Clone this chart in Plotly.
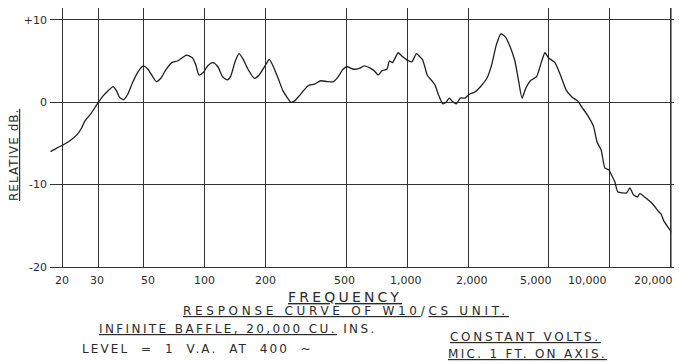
import math
import plotly.graph_objects as go

# ---- data ----
freq_hz = [17.4, 18.6, 20, 21.6, 23.6, 24.8, 25.7, 27.5, 30, 31.7, 33.5, 35.4, 36.8, 38.1, 39.9,
           41.9, 44.2, 46.8, 49.8, 52.6, 55.5, 57.9, 60.9, 64.8, 69, 73.5, 77.7, 81.7, 87.1, 90.7,
           93.9, 98.7, 103.6, 110.2, 116.4, 122.8, 129.7, 134.4, 141.9, 148.2, 155.2, 163.9, 176.2,
           186, 200, 208.8, 218.7, 230.8, 243.6, 257, 266.4, 276.4, 291.6, 307.8, 324.8, 348.8, 375,
           403, 433, 457, 482, 505, 544, 580, 614, 660, 689, 719, 750, 794, 817, 846, 902, 950, 1000,
           1053, 1111, 1145, 1188, 1231, 1254, 1323, 1371, 1421, 1500, 1556, 1612, 1670, 1744, 1829,
           1930, 2035, 2147, 2302, 2472, 2607, 2748, 2897, 3055, 3222, 3398, 3543, 3685, 3844, 4054,
           4346, 4582, 4783, 4970, 5353, 5716, 6104, 6518, 6961, 7268, 7761, 8287, 8657, 9052, 9450,
           9870, 10160, 10550, 10950, 11510, 12080, 12540, 13030, 13640, 14050, 14980, 16160, 17420,
           17900, 18430, 19900, 20000]
level_db = [-6.0, -5.6, -5.2, -4.7, -3.9, -3.1, -2.3, -1.4, 0.0, 0.8, 1.4, 1.9, 1.4, 0.6, 0.3,
            1.0, 2.4, 3.6, 4.4, 4.0, 3.1, 2.5, 2.9, 4.0, 4.8, 5.0, 5.4, 5.7, 5.4, 4.5,
            3.3, 3.6, 4.4, 4.8, 4.3, 3.1, 2.7, 3.1, 5.0, 5.9, 5.2, 4.0, 2.9,
            3.3, 4.5, 5.2, 4.3, 2.9, 1.4, 0.5, 0.0, 0.1, 0.7, 1.4, 2.0, 2.2, 2.6,
            2.5, 2.5, 3.1, 4.0, 4.3, 4.0, 4.1, 4.4, 4.1, 3.8, 3.3, 3.8, 4.0, 5.0, 4.8, 6.0, 5.5, 5.1,
            4.9, 5.9, 5.6, 5.2, 4.0, 3.3, 2.6, 2.1, 1.0, -0.2, 0.0, 0.5, 0.1, -0.2, 0.5,
            0.5, 1.0, 1.2, 1.9, 2.9, 4.5, 6.9, 8.3, 7.9, 6.7, 5.0, 2.6, 0.5, 1.7, 2.6,
            3.1, 4.8, 6.0, 5.4, 4.8, 3.2, 1.4, 0.6, 0.1, -0.6, -1.6, -2.9, -4.9, -5.8, -8.0,
            -8.2, -8.8, -9.6, -10.9, -11.0, -11.0, -10.4, -11.2, -11.5, -11.1, -11.6, -12.3, -13.3,
            -13.6, -14.4, -15.6, -15.8]

x_tick_vals = [20, 30, 50, 100, 200, 500, 1000, 2000, 5000, 10000, 20000]
x_tick_text = ["20", "30", "50", "100", "200", "500", "1,000", "2,000", "5,000", "10,000", "20,000"]
y_tick_vals = [-20, -10, 0, 10]
y_tick_text = ["-20", "-10", "0", "+10"]

# hand-lettered label offsets from their grid lines (style, in px)
x_label_shift = [-1, -1, 5, 0, 0, -2, -1, 4, -13, -22, -17]

# ---- layout geometry ----
W, H = 679, 363
ML, MR, MT, MB = 50, 5, 8, 96
PW, PH = W - ML - MR, H - MT - MB

def px(x):
    return (x - ML) / PW

def py(y):
    return (H - MB - y) / PH

INK = "#2b2b2b"
GRID = "#333333"
FONT = "DejaVu Sans"

fig = go.Figure()
fig.add_trace(go.Scatter(
    x=freq_hz, y=level_db, mode="lines",
    line=dict(color="#1e1e1e", width=1.3, shape="spline", smoothing=0.6),
    hoverinfo="skip", showlegend=False,
))

fig.update_xaxes(
    type="log", range=[1.238, 4.316],
    tickvals=x_tick_vals, ticktext=x_tick_text, showticklabels=False,
    showgrid=True, gridcolor=GRID, gridwidth=1.2,
    showline=True, linecolor=GRID, linewidth=1.4,
    ticks="", zeroline=False, fixedrange=True,
)
fig.update_yaxes(
    range=[-20, 11.43],
    tickvals=y_tick_vals, ticktext=y_tick_text,
    showgrid=True, gridcolor=GRID, gridwidth=1.2,
    showline=False, ticks="", ticklabelstandoff=2,
    tickfont=dict(family=FONT, size=11, color=INK),
    zeroline=False, fixedrange=True,
)

# last frequency grid line (plotly drops it near the plot edge); shapes take data values
fig.add_shape(
    type="line", xref="x", yref="paper",
    x0=x_tick_vals[-1], x1=x_tick_vals[-1], y0=0, y1=1,
    line=dict(color=GRID, width=1.2), layer="above",
)

# x tick labels, placed at their grid values on the log axis
for v, t, s in zip(x_tick_vals, x_tick_text, x_label_shift):
    fig.add_annotation(
        text=t, xref="x", yref="y", x=math.log10(v), y=y_tick_vals[0],
        xanchor="center", yanchor="top", xshift=s, yshift=-5, showarrow=False,
        font=dict(family=FONT, size=11, color=INK),
    )

def note(text, xc, yc, size, spacing):
    fig.add_annotation(
        text=f'<span style="letter-spacing:{spacing}px">{text}</span>',
        xref="paper", yref="paper", x=px(xc), y=py(yc),
        xanchor="center", yanchor="middle", showarrow=False,
        font=dict(family=FONT, size=size, color=INK),
    )

note("<u>FREQUENCY</u>", 345, 297, 14, 3.2)
note("<u>RESPONSE CURVE OF W10</u>/<u>CS UNIT.</u>", 346, 311, 12, 3.7)
note("<u>INFINITE BAFFLE, 20,000 CU.</u> INS.", 238, 329, 12, 2.4)
note("<u>CONSTANT VOLTS.</u>", 525, 337, 12, 2.7)
note("LEVEL  =  1  V.A.  AT  400  ~", 197, 349, 12, 2.1)
note("<u>MIC. 1 FT. ON AXIS.</u>", 527, 354, 12, 2.3)

fig.add_annotation(
    text='<span style="letter-spacing:1px"><u>RELATIVE dB.</u></span>',
    xref="paper", yref="paper", x=px(14), y=py(155),
    xanchor="center", yanchor="middle", textangle=-90, showarrow=False,
    font=dict(family=FONT, size=12, color=INK),
)

fig.update_layout(
    width=W, height=H,
    margin=dict(l=ML, r=MR, t=MT, b=MB),
    paper_bgcolor="white", plot_bgcolor="white",
    showlegend=False, hovermode=False,
)

fig.write_html("out.html", config={"displayModeBar": False},
               post_script="document.body.style.margin='0';")
